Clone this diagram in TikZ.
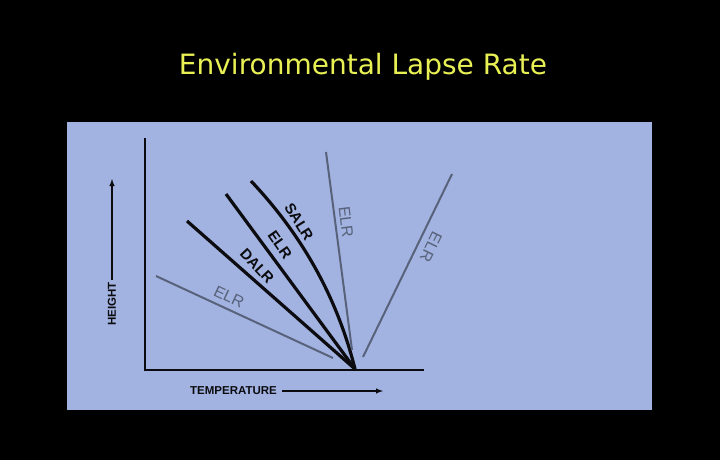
\documentclass[tikz,border=0pt]{standalone}
\usepackage{fontspec}
\setmainfont{Liberation Sans}
\newfontfamily\titlefont{DejaVu Sans}
\definecolor{panelblue}{RGB}{162,179,225}
\definecolor{titleyellow}{RGB}{232,240,84}
\definecolor{greyline}{RGB}{88,98,122}
\definecolor{inkblack}{RGB}{12,12,16}
\begin{document}
\begin{tikzpicture}[x=1pt,y=-1pt,
  thickline/.style={draw=inkblack,line width=3.2pt},
  greyl/.style={draw=greyline,line width=2pt},
  axis/.style={draw=inkblack,line width=2.8pt},
  lbl/.style={font=\fontsize{16}{16}\selectfont,inner sep=0pt,text=greyline},
  blbl/.style={font=\bfseries\fontsize{15}{15}\selectfont,inner sep=0pt,text=inkblack},
  axlbl/.style={font=\bfseries\fontsize{11.5}{11.5}\selectfont,inner sep=0pt,text=inkblack},
  axarrow/.style={draw=inkblack,line width=1.4pt,-latex}]
\fill[black] (0,0) rectangle (720,460);
\useasboundingbox (0,0) rectangle (720,460);
\fill[panelblue] (67,122) rectangle (652,410);
\node[font=\titlefont\fontsize{28}{28}\selectfont,text=titleyellow] (title) at (363,67) {Environmental Lapse Rate};
% axes
\coordinate (ytop) at (145,138);
\coordinate (orig) at (145,370);
\coordinate (xend) at (424,370);
\draw[axis,line cap=butt] (ytop) -- (orig) -- (xend);
% convergence point
\coordinate (o) at (355,369);
\coordinate (e1s) at (156,276);
\coordinate (e1e) at (333,358);
\coordinate (ds) at (187,221);
\coordinate (es) at (226,194);
\coordinate (ss) at (251,181);
\coordinate (sc1) at (302,235);
\coordinate (sc2) at (337,297);
\coordinate (e2s) at (326,152);
\coordinate (e2e) at (352,350);
\coordinate (e3s) at (452,174);
\coordinate (e3e) at (363,357);
\draw[greyl] (e1s) -- (e1e);
\draw[thickline] (ds) -- (o);
\draw[thickline] (es) -- (o);
\draw[thickline] (ss) .. controls (sc1) and (sc2) .. (o);
\draw[greyl] (e2s) -- (e2e);
\draw[greyl] (e3s) -- (e3e);
% labels
\node[lbl,rotate=-25] (l1) at (229,297) {ELR};
\node[blbl,rotate=-47] (l2) at (257,266) {DALR};
\node[blbl,rotate=-55] (l3) at (280,245) {ELR};
\node[blbl,rotate=-58] (l4) at (299,222) {SALR};
\node[lbl,rotate=-83] (l5) at (346,222) {ELR};
\node[lbl,rotate=-116] (l6) at (431,247) {ELR};
% axis labels
\node[axlbl,rotate=90] (hl) at (112,304) {HEIGHT};
\coordinate (ha) at (112,280);
\coordinate (hb) at (112,179);
\draw[axarrow] (ha) -- (hb);
\node[axlbl,anchor=west] (tl) at (190,391) {TEMPERATURE};
\coordinate (ta) at (282,391);
\coordinate (tb) at (383,391);
\draw[axarrow] (ta) -- (tb);
\end{tikzpicture}
\end{document}
